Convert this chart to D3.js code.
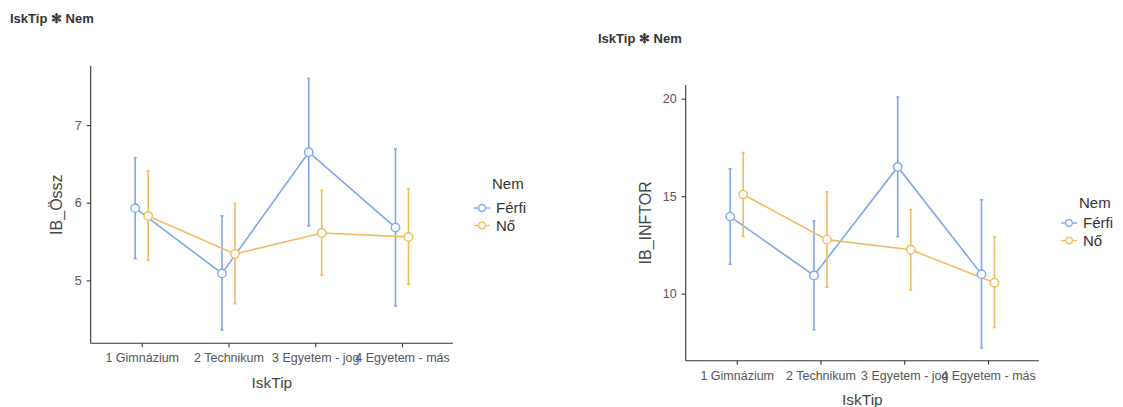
<!DOCTYPE html>
<html>
<head>
<meta charset="utf-8">
<script src="https://cdn.jsdelivr.net/npm/d3@7/dist/d3.min.js"></script>
<style>
  body { margin: 0; background: #fff; }
  svg text { font-family: "Liberation Sans", Arial, sans-serif; }
</style>
</head>
<body>
<svg id="chart" width="1123" height="407"></svg>
<script>
// School types on the x axis and the two groups of the legend
const categories = ["1 Gimnázium", "2 Technikum", "3 Egyetem - jog", "4 Egyetem - más"];
const groups = ["Férfi", "Nő"];

// IB_Össz: group means with confidence interval bounds
const osszFerfiMean = [5.93, 5.09, 6.65, 5.68];
const osszFerfiLow  = [5.28, 4.36, 5.70, 4.67];
const osszFerfiHigh = [6.58, 5.83, 7.60, 6.69];
const osszNoMean    = [5.83, 5.34, 5.61, 5.56];
const osszNoLow     = [5.26, 4.70, 5.07, 4.95];
const osszNoHigh    = [6.41, 5.99, 6.16, 6.18];
const osszTicks     = [5, 6, 7];

// IB_INFTOR: group means with confidence interval bounds
const inftorFerfiMean = [13.95, 10.93, 16.50, 11.00];
const inftorFerfiLow  = [11.51, 8.14, 12.93, 7.21];
const inftorFerfiHigh = [16.40, 13.73, 20.08, 14.81];
const inftorNoMean    = [15.08, 12.77, 12.25, 10.56];
const inftorNoLow     = [12.93, 10.33, 10.19, 8.26];
const inftorNoHigh    = [17.24, 15.22, 14.31, 12.90];
const inftorTicks     = [10, 15, 20];

const colors = { "Férfi": "#7ea7ee", "Nő": "#efbd5f" };
const svg = d3.select("#chart");

function panel(cfg) {
  const g = svg.append("g");
  const x = d3.scalePoint().domain(categories).range([cfg.x0 + 51, cfg.x1 - 51]);
  const y = d3.scaleLinear().domain(cfg.yDomain).range([cfg.yBottom, cfg.axisTop]);
  const dodge = d3.scalePoint().domain(groups).range([-6.5, 6.5]);

  // title
  g.append("text").attr("x", cfg.titleX).attr("y", cfg.titleY)
    .attr("font-size", 13).attr("font-weight", "bold").attr("fill", "#333")
    .text("IskTip \u273B Nem");

  // axes
  const ya = g.append("g").attr("transform", `translate(${cfg.x0},0)`)
    .call(d3.axisLeft(y).tickValues(cfg.ticks).tickFormat(d3.format("d")).tickSize(4).tickPadding(5));
  const xa = g.append("g").attr("transform", `translate(0,${cfg.yBottom})`)
    .call(d3.axisBottom(x).tickSize(4).tickPadding(6));
  [ya, xa].forEach(a => {
    a.select(".domain").remove();
    a.selectAll(".tick line").attr("stroke", "#333").attr("stroke-width", 1.1);
    a.selectAll(".tick text").attr("fill", "#555").attr("font-size", 12.5)
      .attr("font-family", "Liberation Sans, Arial, sans-serif");
  });
  g.append("line").attr("x1", cfg.x0).attr("x2", cfg.x0)
    .attr("y1", cfg.yBottom).attr("y2", cfg.axisTop).attr("stroke", "#333").attr("stroke-width", 1.1);
  g.append("line").attr("x1", cfg.x0).attr("x2", cfg.x1)
    .attr("y1", cfg.yBottom).attr("y2", cfg.yBottom).attr("stroke", "#333").attr("stroke-width", 1.1);

  // axis titles
  g.append("text").attr("x", (cfg.x0 + cfg.x1) / 2).attr("y", cfg.xTitleY)
    .attr("text-anchor", "middle").attr("font-size", 15.5).attr("fill", "#444").text("IskTip");
  g.append("text").attr("transform", `translate(${cfg.yTitleX},${(cfg.yBottom + cfg.axisTop) / 2}) rotate(-90)`)
    .attr("text-anchor", "middle").attr("font-size", 16).attr("fill", "#444").text(cfg.yLabel);

  // series
  cfg.series.forEach(s => {
    const pts = categories.map((c, i) => ({ c, m: s.mean[i], lo: s.low[i], hi: s.high[i] }));
    const px = d => x(d.c) + dodge(s.name);
    const col = colors[s.name];
    g.append("path").datum(pts)
      .attr("d", d3.line().x(px).y(d => y(d.m)))
      .attr("fill", "none").attr("stroke", col).attr("stroke-width", 1.6);
    const eb = g.append("g").selectAll("g").data(pts).join("g");
    eb.append("line").attr("x1", px).attr("x2", px)
      .attr("y1", d => y(d.lo)).attr("y2", d => y(d.hi))
      .attr("stroke", col).attr("stroke-width", 1.6);
    eb.append("line").attr("x1", d => px(d) - 1.5).attr("x2", d => px(d) + 1.5)
      .attr("y1", d => y(d.lo)).attr("y2", d => y(d.lo)).attr("stroke", col).attr("stroke-width", 1.6);
    eb.append("line").attr("x1", d => px(d) - 1.5).attr("x2", d => px(d) + 1.5)
      .attr("y1", d => y(d.hi)).attr("y2", d => y(d.hi)).attr("stroke", col).attr("stroke-width", 1.6);
  });
  cfg.series.forEach(s => {
    const col = colors[s.name];
    g.append("g").selectAll("circle").data(categories.map((c, i) => ({ c, m: s.mean[i] })))
      .join("circle")
      .attr("cx", d => x(d.c) + dodge(s.name)).attr("cy", d => y(d.m)).attr("r", 4.2)
      .attr("fill", "#fff").attr("stroke", col).attr("stroke-width", 1.4);
  });

  // legend
  const lg = g.append("g").attr("transform", `translate(${cfg.legX},${cfg.legY})`);
  lg.append("text").attr("x", 10).attr("y", 5).attr("font-size", 15).attr("fill", "#333").text("Nem");
  groups.forEach((n, i) => {
    const r = lg.append("g").attr("transform", `translate(0,${cfg.legGap + i * 17.5})`);
    r.append("line").attr("x1", -8).attr("x2", 8).attr("y1", 0).attr("y2", 0)
      .attr("stroke", colors[n]).attr("stroke-width", 1.4);
    r.append("circle").attr("cx", 0).attr("cy", 0).attr("r", 3.3)
      .attr("fill", "#fff").attr("stroke", colors[n]).attr("stroke-width", 1.2);
    r.append("text").attr("x", 14).attr("y", 5).attr("font-size", 15).attr("fill", "#333").text(n);
  });
}

panel({
  x0: 90.7, x1: 453, axisTop: 66, yBottom: 343.3, yDomain: [4.19, 7.76], ticks: osszTicks,
  titleX: 10, titleY: 23, xTitleY: 388, yTitleX: 62, yLabel: "IB_Össz", legX: 482, legY: 184, legGap: 24,
  series: [
    { name: "Férfi", mean: osszFerfiMean, low: osszFerfiLow, high: osszFerfiHigh },
    { name: "Nő", mean: osszNoMean, low: osszNoLow, high: osszNoHigh }
  ]
});
panel({
  x0: 685.7, x1: 1039, axisTop: 85, yBottom: 360.7, yDomain: [6.56, 20.70], ticks: inftorTicks,
  titleX: 598, titleY: 43, xTitleY: 405, yTitleX: 651, yLabel: "IB_INFTOR", legX: 1069, legY: 203, legGap: 20,
  series: [
    { name: "Férfi", mean: inftorFerfiMean, low: inftorFerfiLow, high: inftorFerfiHigh },
    { name: "Nő", mean: inftorNoMean, low: inftorNoLow, high: inftorNoHigh }
  ]
});
</script>
</body>
</html>
